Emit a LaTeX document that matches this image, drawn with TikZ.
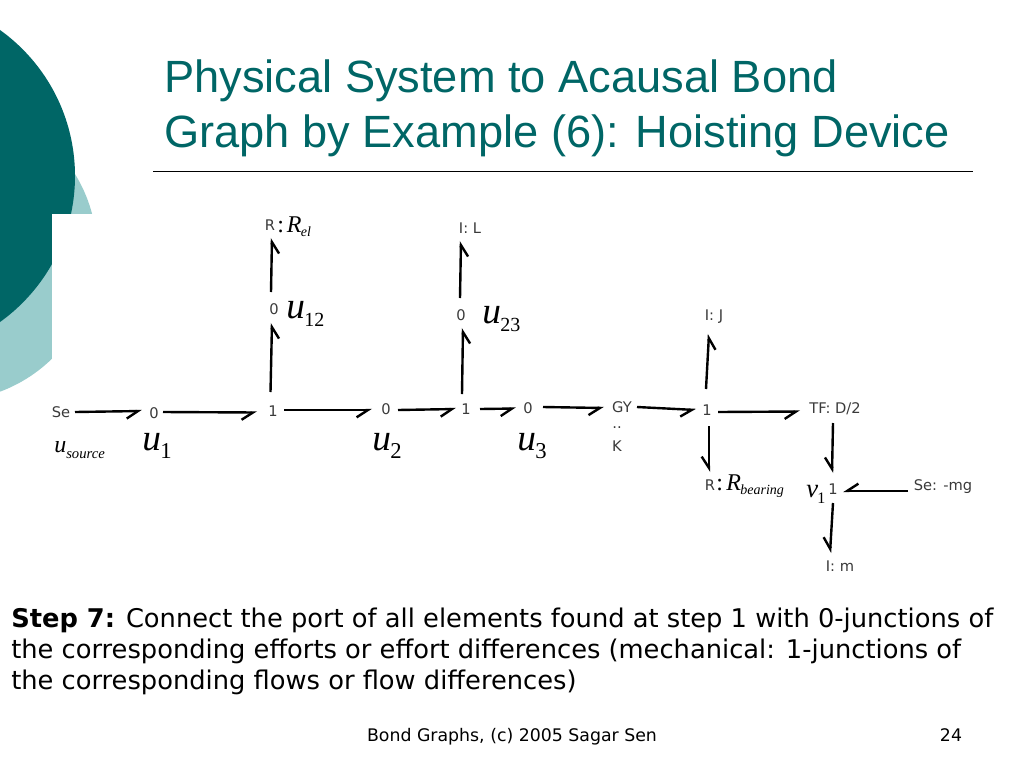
\documentclass[tikz,border=0pt]{standalone}
\usepackage{fontspec}
\setmainfont{DejaVu Sans}
\newfontfamily\titlefont{Liberation Sans}
\newfontfamily\tmfont{Liberation Serif}
\usetikzlibrary{arrows.meta}
\definecolor{teal1}{HTML}{006666}
\definecolor{teal2}{HTML}{99CCCC}
\definecolor{lab}{HTML}{3A3A3A}
% #1 letter, #2 subscript, #3 letter size, #4 subscript size, #5 subscript shape, #6 kern, #7 drop
\newcommand{\varlab}[7]{{\tmfont\itshape\fontsize{#3}{#3}\selectfont #1\kern#6pt\raisebox{-#7pt}{\fontsize{#4}{#4}\selectfont #5#2}}}
\tikzset{
  el/.style={inner sep=0pt,text=lab,font=\fontsize{11}{13}\selectfont},
  arr/.style={line width=1.8pt,-{Straight Barb[harpoon,swap,length=8.5pt,width=11pt,line width=1.8pt]}},
  var/.style={inner sep=0pt,text=black},
}
\begin{document}
\begin{tikzpicture}[x=0.75pt,y=-0.75pt]
\useasboundingbox (0,0) rectangle (1024,768);
% decoration
\fill[teal2] (-52,252) circle[radius=149];
\fill[teal1] (-104.6,176) circle[radius=179.6];
\fill[white] (52,214) rectangle (200,420);
% title
\node[anchor=base west,inner sep=0pt,text=teal1,align=left,font=\titlefont\fontsize{33.9}{41.25}\selectfont] (title) at (164,147)
  {Physical System to Acausal Bond\\Graph by Example (6): Hoisting Device};
\coordinate (ruleL) at (153,171);
\coordinate (ruleR) at (973,171);
\draw[line width=0.7pt] (ruleL) -- (ruleR);
% elements
\node[el] (se)  at (61,412) {Se};
\node[el] (j1)  at (154,413) {0};
\node[el] (s1)  at (273,411) {1};
\node[el] (j2)  at (386,409) {0};
\node[el] (s2)  at (466,409) {1};
\node[el] (j3)  at (528,408) {0};
\node[el] (gy)  at (622,407) {GY};
\node[el] (dd)  at (617,428) {..};
\node[el] (k)   at (617,446) {K};
\node[el] (s3)  at (707,410) {1};
\node[el] (tf)  at (835,409) {TF: D/2};
\node[el] (s4)  at (833,489) {1};
\node[el] (sg)  at (943,487) {Se: -mg};
\node[el] (im)  at (840,566) {I: m};
\node[el] (ij)  at (714,317) {I: J};
\node[el] (rb)  at (710,485) {R};
\node[el] (il)  at (470,228) {I: L};
\node[el] (j23) at (461,315) {0};
\node[el] (j12) at (274,309) {0};
\node[el] (rl)  at (270,225) {R};
% bonds
\draw[arr] ([shift={(14,0)}]se.center) -- ([shift={(-12,-2)}]j1.center);
\draw[arr] ([shift={(9,-1)}]j1.center) -- ([shift={(-16,1.5)}]s1.center);
\draw[arr] ([shift={(11,-1)}]s1.center) -- ([shift={(-14,1)}]j2.center);
\draw[arr] ([shift={(12,1)}]j2.center) -- ([shift={(-10,0)}]s2.center);
\draw[arr] ([shift={(14,0)}]s2.center) -- ([shift={(-12,0.5)}]j3.center);
\draw[arr] ([shift={(15,-1)}]j3.center) -- ([shift={(-18,1)}]gy.center);
\draw[arr] ([shift={(15,0)}]gy.center) -- ([shift={(-11,0)}]s3.center);
\draw[arr] ([shift={(11,2)}]s3.center) -- ([shift={(-35,2.5)}]tf.center);
\draw[arr] ([shift={(-1,-21)}]s3.center) -- ([shift={(-5,17)}]ij.center);
\draw[arr] ([shift={(2,16)}]s3.center) -- ([shift={(-1,-13)}]rb.center);
\draw[arr] ([shift={(-2,14)}]tf.center) -- ([shift={(-1,-16)}]s4.center);
\draw[arr] ([shift={(-35,4)}]sg.center) -- ([shift={(10,2)}]s4.center);
\draw[arr] ([shift={(0,14)}]s4.center) -- ([shift={(-10,-13)}]im.center);
\draw[arr] ([shift={(-2.5,-19)}]s1.center) -- ([shift={(-2,14)}]j12.center);
\draw[arr] ([shift={(-3,-17)}]j12.center) -- ([shift={(2,13)}]rl.center);
\draw[arr] ([shift={(-4,-15)}]s2.center) -- ([shift={(2,13)}]j23.center);
\draw[arr] ([shift={(-1,-17)}]j23.center) -- ([shift={(-9,13)}]il.center);
% variable labels
\node[var,anchor=base west] (vsrc) at (54,452) {\varlab{u}{source}{18}{11}{\itshape}{0}{4.5}};
\node[var,anchor=base west] (v1) at (142,450) {\varlab{u}{1}{28}{17}{\upshape}{-0.5}{6.5}};
\node[var,anchor=base west] (v2) at (372,450) {\varlab{u}{2}{28}{17}{\upshape}{-0.5}{6.5}};
\node[var,anchor=base west] (v3) at (517,450) {\varlab{u}{3}{28}{17}{\upshape}{-0.5}{6.5}};
\node[var,anchor=base west] (v12) at (286,318) {\varlab{u}{12}{28}{15}{\upshape}{-0.5}{6.5}};
\node[var,anchor=base west] (v23) at (482,323) {\varlab{u}{23}{28}{15}{\upshape}{-0.5}{6.5}};
\node[var,anchor=base west] (vrel) at (277,232) {{\tmfont\fontsize{18}{18}\selectfont :\kern2.2pt}\varlab{R}{el}{18}{10.5}{\itshape}{-0.5}{3.5}};
\node[var,anchor=base west] (vrb) at (716,490) {{\tmfont\fontsize{18}{18}\selectfont :\kern2.6pt}\varlab{R}{bearing}{18}{10.5}{\itshape}{-0.5}{3.5}};
\node[var,anchor=base west] (vv1) at (806,497) {\varlab{v}{1}{20}{12}{\upshape}{-0.5}{4.5}};
% body
\node[anchor=base west,inner sep=0pt,align=left,font=\fontsize{19.3}{23.25}\selectfont] (body) at (11,689)
  {\textbf{Step 7:} Connect the port of all elements found at step 1 with 0-junctions of\\
   the corresponding efforts or effort differences (mechanical: 1-junctions of\\
   the corresponding flows or flow differences)};
% footer
\node[anchor=base,inner sep=0pt,font=\fontsize{13}{15}\selectfont] (foot) at (512,741) {Bond Graphs, (c) 2005 Sagar Sen};
\node[anchor=base,inner sep=0pt,font=\fontsize{13}{15}\selectfont] (pg) at (951,741) {24};
\end{tikzpicture}
\end{document}
